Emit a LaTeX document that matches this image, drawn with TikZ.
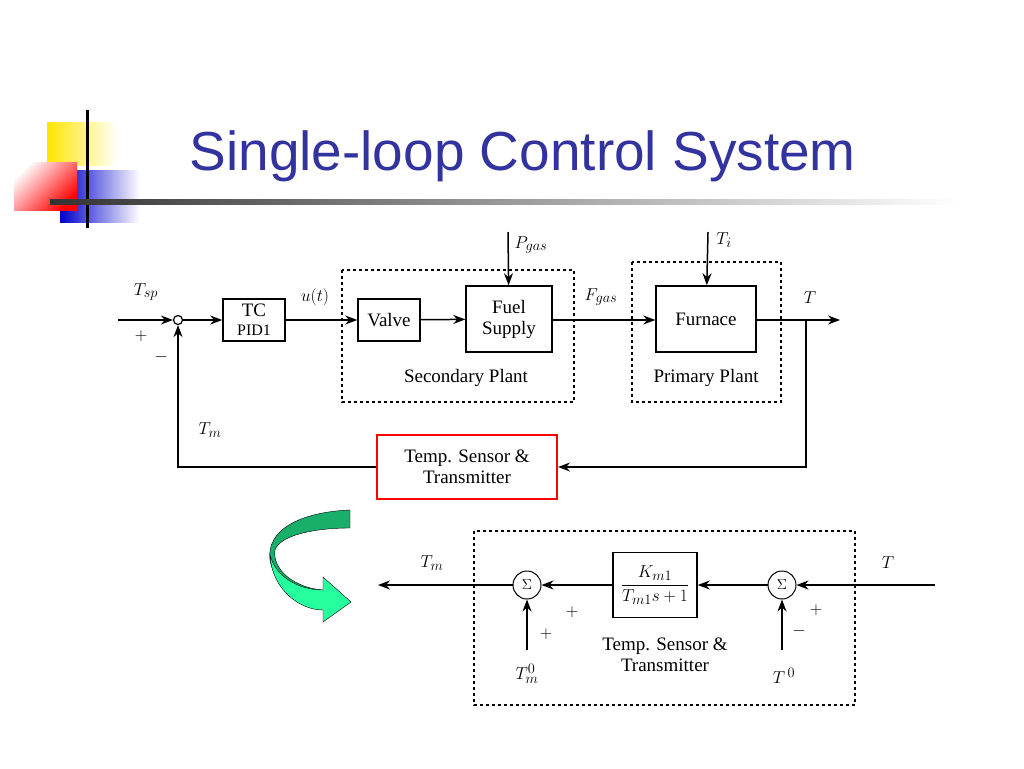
\documentclass[tikz,border=0pt]{standalone}
\usepackage{fontspec}
\setmainfont{Liberation Serif}
\newfontfamily\titlefont{Liberation Sans}
\usetikzlibrary{arrows.meta,positioning}
\definecolor{titleblue}{HTML}{3333A0}
\tikzset{
  blk/.style={draw, line width=1.5pt, minimum width=#1, minimum height=42pt, align=center, inner sep=1pt, font=\fontsize{19}{21}\selectfont},
  blk/.default=62pt,
  grp/.style={draw, line width=1.5pt, dash pattern=on 3pt off 3pt},
  sig/.style={line width=1.5pt, -{Stealth[length=12pt,width=9pt]}},
  lbl/.style={font=\fontsize{19}{21}\selectfont},
  sumc/.style={circle, draw, line width=1pt, minimum size=28pt, inner sep=0pt, font=\fontsize{14}{16}\selectfont},
}
\begin{document}
\begin{tikzpicture}[x=1pt,y=-1pt]
\useasboundingbox (0,0) rectangle (1024,768);
% logo
\shade[left color=yellow!80!orange, right color=white] (47,122) rectangle (118,165);
\shade[left color=blue!80!black, right color=white] (60,170) rectangle (140,222);
\shade[left color=white, right color=red, shading angle=45] (14,162) rectangle (77,210);
\draw[line width=3pt] (87,110) -- (87,228);
\shade[left color=black!80, right color=white] (50,199) rectangle (960,204);
\node[anchor=west, text=titleblue, font=\titlefont\fontsize{55}{60}\selectfont] (title) at (186,156) {Single-loop Control System};

% upper loop
\node[circle, draw, line width=1.2pt, minimum size=9pt, inner sep=0pt] (cmp) at (178,320) {};
\coordinate (tin) at (118,320);
\node[blk] (tc) at (254,320) {TC\\[-2pt]{\fontsize{16}{18}\selectfont PID1}};
\node[blk] (valve) at (389,320) {Valve};
\node[blk=86pt, minimum height=66pt] (fuel) at (509,319) {Fuel\\Supply};
\node[blk=100pt, minimum height=66pt] (furn) at (706,319) {Furnace};
\draw[grp] (342,270) rectangle (574,402);
\draw[grp] (632,262) rectangle (781,402);
\node[lbl] (sec) at (466,378) {Secondary Plant};
\node[lbl] (pri) at (706,378) {Primary Plant};
\node[blk=180pt, minimum height=64pt, draw=red, line width=2pt] (sens) at (467,467) {Temp. Sensor \&\\Transmitter};
\coordinate (pg) at (508,232);
\coordinate (ti) at (708,232);
\coordinate (tout) at (840,320);
\coordinate (br) at (806,320);

\draw[sig] (tin) -- (cmp);
\draw[sig] (cmp) -- (tc);
\draw[sig] (tc) -- (valve);
\draw[sig] (valve) -- (fuel);
\draw[sig] (fuel.east |- cmp) -- (furn.west |- cmp);
\draw[sig] (pg) -- (fuel);
\draw[sig] (ti) -- (furn);
\draw[sig] (furn.east |- cmp) -- (tout);
\draw[sig] (br) |- (sens);
\draw[sig] (sens) -| (cmp);

\node[lbl] at (146,292) {$T_{sp}$};
\node[lbl] at (141,336) {$+$};
\node[lbl] at (161,357) {$-$};
\node[lbl] at (315,297) {$u(t)$};
\node[lbl] at (531,245) {$P_{gas}$};
\node[lbl] at (601,297) {$F_{gas}$};
\node[lbl] at (724,240) {$T_i$};
\node[lbl] at (810,298) {$T$};
\node[lbl] at (210,430) {$T_m$};

% curved arrow
\fill[teal!70!green!90, draw=black] (350,510) .. controls (300,512) and (266,530) .. (270,560)
  .. controls (274,585) and (300,598) .. (323,600) -- (323,590) .. controls (295,588) and (272,570) .. (275,550)
  .. controls (280,535) and (315,528) .. (350,528) -- cycle;
\fill[green!45!cyan!85, draw=black] (270,555) .. controls (272,590) and (300,610) .. (323,610)
  -- (323,622) -- (351,602) -- (323,577) -- (323,590) .. controls (300,590) and (276,578) .. (270,555) -- cycle;

% lower detail
\draw[grp] (474,531) rectangle (855,705);
\node[sumc] (s2) at (782,585) {$\Sigma$};
\node[sumc] (s1) at (527,585) {$\Sigma$};
\node[blk=84pt, minimum height=65pt] (gm) at (655,585) {$\displaystyle\frac{K_{m1}}{T_{m1}s+1}$};
\coordinate (tin2) at (935,585);
\coordinate (t0) at (782,650);
\coordinate (tm0) at (527,650);
\coordinate (tmout) at (378,585);
\draw[sig] (tin2) -- (s2);
\draw[sig] (t0) -- (s2);
\draw[sig] (s2) -- (gm);
\draw[sig] (gm) -- (s1);
\draw[sig] (tm0) -- (s1);
\draw[sig] (s1) -- (tmout);
\node[lbl] at (888,563) {$T$};
\node[lbl] at (816,610) {$+$};
\node[lbl] at (799,631) {$-$};
\node[lbl] at (784,676) {$T^{\,0}$};
\node[lbl] at (572,612) {$+$};
\node[lbl] at (546,634) {$+$};
\node[lbl] at (527,674) {$T_m^0$};
\node[lbl] at (432,563) {$T_m$};
\node[lbl, align=center] (sens2) at (665,655) {Temp. Sensor \&\\Transmitter};
\end{tikzpicture}
\end{document}
